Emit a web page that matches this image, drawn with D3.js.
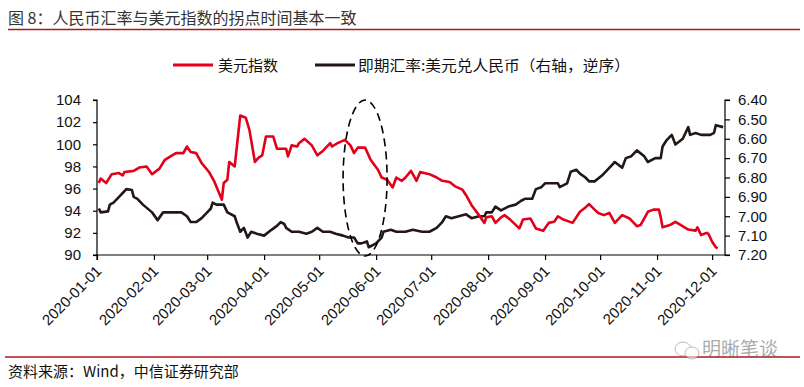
<!DOCTYPE html>
<html>
<head>
<meta charset="utf-8">
<script src="https://cdn.jsdelivr.net/npm/d3@7/dist/d3.min.js"></script>
<style>
  html, body { margin: 0; padding: 0; background: #fff; }
  svg { display: block; }
  text { font-family: "Liberation Sans", Arial, sans-serif; }
  .cjk { font-family: "Noto Sans CJK SC", "Noto Sans", sans-serif; }
</style>
</head>
<body>
<svg id="chart" width="804" height="387"></svg>
<script>
// ---------------- DATA ----------------
const title = "图 8：人民币汇率与美元指数的拐点时间基本一致";
const source = "资料来源：Wind，中信证券研究部";
const seriesNames = ["美元指数", "即期汇率:美元兑人民币（右轴，逆序）"];

const xTickLabels = ["2020-01-01","2020-02-01","2020-03-01","2020-04-01","2020-05-01","2020-06-01",
                     "2020-07-01","2020-08-01","2020-09-01","2020-10-01","2020-11-01","2020-12-01"];
const leftTicks = [90, 92, 94, 96, 98, 100, 102, 104];
const rightTicks = [6.40, 6.50, 6.60, 6.70, 6.80, 6.90, 7.00, 7.10, 7.20];

// 美元指数 (left axis)
const dxyDates = ["2020-01-02","2020-01-03","2020-01-06","2020-01-09","2020-01-13","2020-01-15","2020-01-16",
  "2020-01-21","2020-01-24","2020-01-28","2020-01-31","2020-02-04","2020-02-07","2020-02-10","2020-02-13",
  "2020-02-17","2020-02-19","2020-02-21","2020-02-24","2020-02-27","2020-03-02","2020-03-05","2020-03-09",
  "2020-03-10","2020-03-12","2020-03-13","2020-03-16","2020-03-19","2020-03-22","2020-03-24","2020-03-27",
  "2020-03-29","2020-03-31","2020-04-02","2020-04-06","2020-04-08","2020-04-13","2020-04-14","2020-04-16",
  "2020-04-19","2020-04-20","2020-04-23","2020-04-27","2020-04-30","2020-05-03","2020-05-07","2020-05-08",
  "2020-05-11","2020-05-15","2020-05-18","2020-05-20","2020-05-22","2020-05-26","2020-05-29","2020-06-02",
  "2020-06-04","2020-06-07","2020-06-10","2020-06-12","2020-06-15","2020-06-17","2020-06-20","2020-06-23",
  "2020-06-25","2020-06-30","2020-07-04","2020-07-07","2020-07-11","2020-07-14","2020-07-18","2020-07-20",
  "2020-07-23","2020-07-27","2020-07-30","2020-07-31","2020-08-03","2020-08-05","2020-08-08","2020-08-10",
  "2020-08-13","2020-08-18","2020-08-20","2020-08-24","2020-08-27","2020-08-31","2020-09-03","2020-09-06",
  "2020-09-08","2020-09-11","2020-09-16","2020-09-20","2020-09-23","2020-09-25","2020-09-28","2020-09-30",
  "2020-10-03","2020-10-06","2020-10-09","2020-10-13","2020-10-17","2020-10-21","2020-10-23","2020-10-27",
  "2020-10-30","2020-11-02","2020-11-03","2020-11-04","2020-11-08","2020-11-11","2020-11-14","2020-11-18",
  "2020-11-22","2020-11-23","2020-11-25","2020-11-28","2020-11-29","2020-12-01","2020-12-03","2020-12-04"];
const dxyValues = [96.5,96.9,96.5,97.3,97.4,97.2,97.5,
  97.6,97.9,98.0,97.3,97.8,98.6,98.9,99.2,
  99.2,99.8,99.3,99.2,98.3,97.5,96.6,95.0,
  96.5,96.8,98.4,98.0,102.6,102.4,101.3,98.4,
  98.8,99.0,100.7,100.7,99.6,99.6,98.9,99.9,
  99.8,100.1,100.5,99.9,99.0,99.4,100.1,99.8,
  100.1,100.4,99.9,99.2,99.7,99.7,98.6,97.7,
  97.0,96.8,96.1,97.0,96.7,97.0,97.6,96.7,
  97.5,97.3,97.0,96.7,96.6,96.2,95.9,95.4,
  94.5,93.6,92.9,93.4,93.5,92.9,93.4,93.6,
  93.2,92.4,93.2,93.3,92.4,92.2,92.9,93.0,
  93.5,93.2,92.9,93.9,94.3,94.6,94.1,93.8,
  93.6,93.8,92.9,93.6,93.3,92.6,92.7,93.9,
  94.1,94.1,93.4,92.5,92.7,93.0,92.7,92.3,
  92.2,92.5,91.8,92.0,91.9,91.2,90.7,90.6];

// 即期汇率:美元兑人民币 (right axis, reversed)
const cnyDates = ["2020-01-02","2020-01-03","2020-01-07","2020-01-08","2020-01-10","2020-01-13","2020-01-15",
  "2020-01-17","2020-01-20","2020-01-21","2020-01-23","2020-01-26","2020-01-31","2020-02-03","2020-02-06",
  "2020-02-08","2020-02-12","2020-02-16","2020-02-19","2020-02-21","2020-02-24","2020-02-27","2020-03-01",
  "2020-03-03","2020-03-04","2020-03-06","2020-03-10","2020-03-12","2020-03-16","2020-03-17","2020-03-19",
  "2020-03-21","2020-03-23","2020-03-25","2020-03-28","2020-04-01","2020-04-05","2020-04-08","2020-04-10",
  "2020-04-12","2020-04-13","2020-04-16","2020-04-20","2020-04-24","2020-04-27","2020-04-30","2020-05-03",
  "2020-05-07","2020-05-10","2020-05-14","2020-05-17","2020-05-20","2020-05-22","2020-05-24","2020-05-27",
  "2020-05-28","2020-06-01","2020-06-02","2020-06-04","2020-06-05","2020-06-09","2020-06-12","2020-06-13",
  "2020-06-17","2020-06-21","2020-06-26","2020-06-30","2020-07-04","2020-07-07","2020-07-09","2020-07-12",
  "2020-07-16","2020-07-20","2020-07-23","2020-07-27","2020-07-30","2020-07-31","2020-08-03","2020-08-05",
  "2020-08-08","2020-08-12","2020-08-16","2020-08-19","2020-08-21","2020-08-25","2020-08-27","2020-08-30",
  "2020-09-01","2020-09-04","2020-09-08","2020-09-09","2020-09-13","2020-09-15","2020-09-18","2020-09-20",
  "2020-09-23","2020-09-25","2020-09-28","2020-10-02","2020-10-06","2020-10-09","2020-10-13","2020-10-15",
  "2020-10-18","2020-10-21","2020-10-25","2020-10-27","2020-10-31","2020-11-03","2020-11-04","2020-11-06",
  "2020-11-09","2020-11-11","2020-11-15","2020-11-18","2020-11-19","2020-11-22","2020-11-25","2020-11-30",
  "2020-12-02","2020-12-03","2020-12-07"];
const cnyValues = [6.96,6.98,6.975,6.94,6.93,6.90,6.88,
  6.86,6.865,6.90,6.91,6.94,6.98,7.02,6.98,
  6.98,6.98,6.98,7.00,7.03,7.03,7.01,6.98,
  6.96,6.93,6.94,6.94,6.98,7.00,7.03,7.08,
  7.06,7.11,7.08,7.09,7.10,7.07,7.05,7.03,
  7.04,7.06,7.08,7.08,7.09,7.08,7.06,7.08,
  7.08,7.09,7.10,7.11,7.11,7.14,7.14,7.13,
  7.16,7.14,7.13,7.11,7.08,7.07,7.08,7.08,
  7.08,7.07,7.08,7.08,7.06,7.03,7.00,7.01,
  7.00,6.99,7.01,7.00,7.00,6.98,6.98,6.95,
  6.97,6.95,6.94,6.92,6.91,6.91,6.86,6.85,
  6.83,6.83,6.83,6.85,6.83,6.77,6.76,6.78,
  6.80,6.82,6.82,6.79,6.75,6.72,6.75,6.70,
  6.69,6.66,6.69,6.72,6.70,6.70,6.64,6.61,
  6.58,6.63,6.60,6.54,6.58,6.57,6.58,6.58,
  6.57,6.53,6.54];

// annotation: dashed ellipse around the turning point
const highlightDate = "2020-05-26";
const highlightLevel = 96.95;

// ---------------- CHART ----------------
const parse = d3.timeParse("%Y-%m-%d");
const svg = d3.select("#chart");
const W = 804, H = 387;
const plot = { left: 97, right: 725, top: 100, bottom: 255 };

const x = d3.scaleTime()
  .domain([parse("2020-01-01"), parse("2020-12-08")])
  .range([plot.left, plot.right]);
const yL = d3.scaleLinear().domain([90, 104]).range([plot.bottom, plot.top]);
const yR = d3.scaleLinear().domain([7.20, 6.40]).range([plot.bottom, plot.top]);

const red = "#e2001a", dark = "#231815";

// title
svg.append("text").attr("class", "cjk")
  .attr("x", 8).attr("y", 24)
  .attr("font-size", 16).attr("fill", "#333")
  .text(title);
svg.append("line").attr("x1", 8).attr("x2", 800).attr("y1", 29.5).attr("y2", 29.5)
  .attr("stroke", "#b0141c").attr("stroke-width", 1.3);

// legend
const lg = svg.append("g");
lg.append("line").attr("x1", 173).attr("x2", 213).attr("y1", 65).attr("y2", 65)
  .attr("stroke", red).attr("stroke-width", 3);
lg.append("text").attr("class", "cjk").attr("x", 218).attr("y", 70.5)
  .attr("font-size", 15).attr("fill", "#111").text(seriesNames[0]);
lg.append("line").attr("x1", 315).attr("x2", 355).attr("y1", 65).attr("y2", 65)
  .attr("stroke", dark).attr("stroke-width", 3);
lg.append("text").attr("class", "cjk").attr("x", 358).attr("y", 70.5)
  .attr("font-size", 15).attr("fill", "#111")
  .attr("textLength", 272).attr("lengthAdjust", "spacingAndGlyphs")
  .text(seriesNames[1]);

// axes
const axL = svg.append("g").attr("transform", `translate(${plot.left},0)`)
  .call(d3.axisLeft(yL).tickValues(leftTicks).tickFormat(d3.format("d")).tickSize(4).tickPadding(12));
const axR = svg.append("g").attr("transform", `translate(${plot.right},0)`)
  .call(d3.axisRight(yR).tickValues(rightTicks).tickFormat(d3.format(".2f")).tickSize(5).tickPadding(8));
const axB = svg.append("g").attr("transform", `translate(0,${plot.bottom})`)
  .call(d3.axisBottom(x).tickValues(xTickLabels.map(parse)).tickFormat(d3.timeFormat("%Y-%m-%d")).tickSize(5));

[axL, axR, axB].forEach(a => {
  a.select(".domain").attr("stroke", "#000").attr("stroke-width", 1.2);
  a.selectAll(".tick line").attr("stroke", "#000").attr("stroke-width", 1.2);
  a.selectAll("text").attr("font-size", 15).attr("fill", "#111")
    .attr("font-family", "'Liberation Sans', Arial, sans-serif");
});
axL.select(".domain").attr("d", `M-4,${plot.top}H0V${plot.bottom}H-4`);
axR.select(".domain").attr("d", `M5,${plot.top}H0V${plot.bottom}H5`);
axB.select(".domain").attr("d", `M${plot.left},5V0H${plot.right}`);

axB.selectAll(".tick text")
  .attr("text-anchor", "end")
  .attr("dy", 0)
  .attr("y", 0)
  .attr("transform", "translate(5,17) rotate(-45)");

// lines
const dxy = dxyDates.map((d, i) => ({ d: parse(d), v: dxyValues[i] }));
const cny = cnyDates.map((d, i) => ({ d: parse(d), v: cnyValues[i] }));

svg.append("path").datum(cny)
  .attr("fill", "none").attr("stroke", dark).attr("stroke-width", 2.6)
  .attr("stroke-linejoin", "round")
  .attr("d", d3.line().x(p => x(p.d)).y(p => yR(p.v)));
svg.append("path").datum(dxy)
  .attr("fill", "none").attr("stroke", red).attr("stroke-width", 2.6)
  .attr("stroke-linejoin", "round")
  .attr("d", d3.line().x(p => x(p.d)).y(p => yL(p.v)));

// dashed ellipse annotation
svg.append("ellipse")
  .attr("cx", x(parse(highlightDate)))
  .attr("cy", yL(highlightLevel))
  .attr("rx", 22).attr("ry", 78)
  .attr("fill", "none").attr("stroke", "#000").attr("stroke-width", 1.6)
  .attr("stroke-dasharray", "8,5");

// footer
svg.append("line").attr("x1", 5).attr("x2", 800).attr("y1", 357).attr("y2", 357)
  .attr("stroke", "#b0141c").attr("stroke-width", 1.3);
svg.append("text").attr("class", "cjk")
  .attr("x", 8).attr("y", 377).attr("font-size", 15).attr("fill", "#111")
  .text(source);

// watermark
const wm = svg.append("g").attr("opacity", 0.55);
wm.append("ellipse").attr("cx", 683).attr("cy", 349).attr("rx", 8).attr("ry", 7)
  .attr("fill", "#fff").attr("stroke", "#888").attr("stroke-width", 1);
wm.append("ellipse").attr("cx", 692).attr("cy", 353).attr("rx", 7).attr("ry", 6)
  .attr("fill", "#fff").attr("stroke", "#888").attr("stroke-width", 1);
wm.append("text").attr("class", "cjk").attr("x", 702).attr("y", 356)
  .attr("font-size", 19).attr("fill", "#666").text("明晰笔谈");
</script>
</body>
</html>
